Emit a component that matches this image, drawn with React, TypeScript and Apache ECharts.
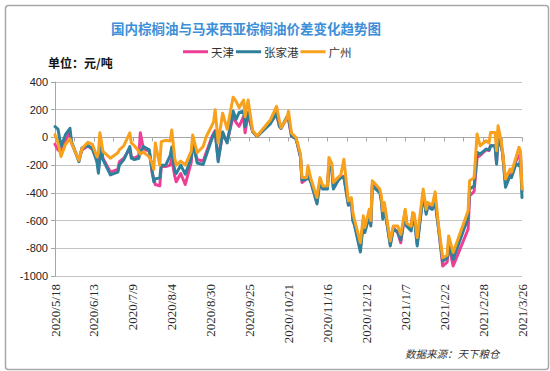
import React, { useEffect, useRef } from "react";
import * as echarts from "echarts";

const titleText = "国内棕榈油与马来西亚棕榈油价差变化趋势图";
const unitText = "单位：元/吨";
const sourceText = "数据来源：天下粮仓";
const seriesNames = ["天津", "张家港", "广州"];
const seriesColors = ["#ec3f95", "#2f819b", "#f8a11c"];

const dates = [
  "2020/5/18", "2020/5/20", "2020/5/22", "2020/5/25", "2020/5/28", "2020/5/29", "2020/6/3", "2020/6/5",
  "2020/6/9", "2020/6/12", "2020/6/15", "2020/6/16", "2020/6/17", "2020/6/18", "2020/6/19", "2020/6/24",
  "2020/6/29", "2020/6/30", "2020/7/3", "2020/7/7", "2020/7/8", "2020/7/10", "2020/7/13", "2020/7/14",
  "2020/7/16", "2020/7/20", "2020/7/22", "2020/7/23", "2020/7/24", "2020/7/27", "2020/7/28", "2020/7/31",
  "2020/8/3", "2020/8/4", "2020/8/6", "2020/8/7", "2020/8/10", "2020/8/13", "2020/8/17", "2020/8/18",
  "2020/8/21", "2020/8/25", "2020/8/27", "2020/8/31", "2020/9/1", "2020/9/2", "2020/9/4", "2020/9/7",
  "2020/9/10", "2020/9/14", "2020/9/16", "2020/9/18", "2020/9/21", "2020/9/22", "2020/9/24", "2020/9/27",
  "2020/9/30", "2020/10/9", "2020/10/13", "2020/10/15", "2020/10/16", "2020/10/20", "2020/10/21", "2020/10/23",
  "2020/10/26", "2020/10/27", "2020/10/29", "2020/10/30", "2020/11/2", "2020/11/3", "2020/11/5", "2020/11/9",
  "2020/11/11", "2020/11/13", "2020/11/16", "2020/11/17", "2020/11/19", "2020/11/20", "2020/11/23", "2020/11/25",
  "2020/11/27", "2020/11/30", "2020/12/2", "2020/12/3", "2020/12/4", "2020/12/8", "2020/12/10", "2020/12/11",
  "2020/12/14", "2020/12/15", "2020/12/16", "2020/12/21", "2020/12/22", "2020/12/23", "2020/12/24", "2020/12/26",
  "2020/12/28", "2020/12/30", "2021/1/2", "2021/1/4", "2021/1/7", "2021/1/8", "2021/1/11", "2021/1/12",
  "2021/1/13", "2021/1/15", "2021/1/19", "2021/1/21", "2021/1/22", "2021/1/25", "2021/1/27", "2021/1/29",
  "2021/2/1", "2021/2/4", "2021/2/5", "2021/2/8", "2021/2/18", "2021/2/19", "2021/2/22", "2021/2/24",
  "2021/2/26", "2021/3/2", "2021/3/4", "2021/3/5", "2021/3/8", "2021/3/9", "2021/3/10", "2021/3/12",
  "2021/3/13", "2021/3/15", "2021/3/18", "2021/3/19", "2021/3/22", "2021/3/24", "2021/3/25", "2021/3/26",
];

const tianjin = [
  -50, -90, -100, -20, 40, -40, -165, -90,
  -60, -85, -165, -230, -140, -80, -150, -250,
  -230, -175, -150, -80, -140, -150, -130, 33,
  -80, -100, -260, -300, -340, -350, -210, -210,
  -200, -150, -280, -320, -260, -340, -180, -40,
  -160, -170, -110, 10, 30, 50, -160, 20,
  -30, 150, 108, 80, 150, 33, 170, 43,
  7, 110, 165, 80, 66, 140, 130, 10,
  -10, -50, -140, -325, -300, -280, -320, -470,
  -320, -370, -360, -200, -235, -365, -310, -285,
  -280, -480, -460, -590, -620, -800, -600, -670,
  -550, -620, -340, -390, -440, -560, -490, -630,
  -770, -650, -690, -760, -530, -640, -660, -550,
  -570, -770, -400, -540, -490, -510, -460, -630,
  -928, -900, -770, -928, -663, -422, -390, -145,
  -130, -90, -95, -60, -60, -180, -20, -60,
  -110, -340, -250, -260, -170, -133, -120, -390,
];

const zhangjiagang = [
  78, 60, -66, 20, 66, -30, -175, -75,
  -60, -80, -175, -258, -150, -66, -160, -270,
  -250, -200, -160, -66, -150, -160, -150, -110,
  -66, -90, -250, -320, -300, -290, -200, -200,
  -130, -70, -245, -260, -200, -265, -150, -30,
  -185, -195, -130, -5, 20, 40, -175, 40,
  -40, 190, 130, 180, 190, 78, 180, 43,
  7, 100, 175, 78, 66, 150, 140, 10,
  -10, -50, -140, -310, -300, -277, -325, -480,
  -325, -373, -373, -205, -240, -373, -313, -290,
  -290, -490, -470, -602, -630, -827, -614, -687,
  -566, -639, -350, -400, -460, -590, -500, -640,
  -783, -663, -680, -740, -540, -640, -675, -560,
  -580, -783, -410, -554, -500, -520, -470, -640,
  -892, -870, -760, -880, -578, -373, -350, -108,
  -120, -84, -90, -60, -60, -193, -12, -60,
  -108, -360, -277, -290, -190, -205, -160, -434,
];

const guangzhou = [
  20, -40, -138, -50, -10, -40, -165, -80,
  -35, -50, -140, -110, 33, -30, -100, -150,
  -110, -90, -60, 33, -40, -60, -100, -120,
  -105, -140, -190, -230, -40, -200, -30, -20,
  -25, 54, -150, -200, -170, -200, -100, 18,
  -110, -65, 5, 90, 115, 200, -40, 175,
  60, 290, 260, 215, 270, 150, 270, 50,
  10, 128, 225, 115, 70, 140, 190, 30,
  0, -40, -120, -290, -290, -205, -300, -434,
  -290, -350, -350, -145, -190, -325, -290, -270,
  -157, -458, -434, -542, -590, -760, -566, -650,
  -518, -600, -313, -373, -422, -530, -470, -610,
  -747, -640, -640, -700, -518, -620, -640, -542,
  -550, -723, -373, -518, -470, -490, -393, -614,
  -868, -850, -711, -830, -530, -313, -290, 24,
  -60, -24, -40, 36, 36, -96, 84, -20,
  -100, -300, -229, -250, -145, -72, -100, -373,
];

const START = Date.UTC(2020, 4, 18);
const DAY = 86400000;
const TOTAL_DAYS = 312;

function dayOffset(s: string): number {
  const [y, m, d] = s.split("/").map(Number);
  return Math.round((Date.UTC(y, m - 1, d) - START) / DAY);
}

function dayLabel(v: number): string {
  const dt = new Date(START + Math.round(v) * DAY);
  return `${dt.getUTCFullYear()}/${dt.getUTCMonth() + 1}/${dt.getUTCDate()}`;
}

const GRID_LEFT = 55;
const GRID_TOP = 82;
const GRID_W = 467;
const GRID_H = 194;
const Y_MIN = -1000;
const Y_MAX = 400;

export default function App() {
  const ref = useRef<HTMLDivElement>(null);

  useEffect(() => {
    if (!ref.current) return;
    const chart = echarts.init(ref.current, null, { renderer: "svg" });
    const allValues = [tianjin, zhangjiagang, guangzhou];
    const zeroOffset = -(GRID_H * (0 - Y_MIN)) / (Y_MAX - Y_MIN);

    chart.setOption({
      animation: false,
      backgroundColor: "#ffffff",
      title: {
        text: titleText,
        left: 241,
        top: 16,
        textAlign: "center",
        textStyle: {
          color: "#3d8fd8",
          fontSize: 13.5,
          fontWeight: "bold",
          fontFamily: "Noto Sans CJK SC",
        },
      },
      legend: {
        left: 178,
        top: 41,
        itemGap: 2,
        itemWidth: 25,
        itemHeight: 3,
        icon: "rect",
        data: seriesNames,
        textStyle: {
          fontSize: 11.5,
          color: "#333",
          fontFamily: "Noto Sans CJK SC",
          padding: [0, 0, 0, -2],
        },
      },
      grid: {
        left: GRID_LEFT,
        top: GRID_TOP,
        width: GRID_W,
        height: GRID_H,
        containLabel: false,
      },
      xAxis: [
        {
          type: "value",
          min: 0,
          max: TOTAL_DAYS,
          interval: 26,
          position: "bottom",
          axisLine: { show: false, onZero: false },
          axisTick: { show: false },
          splitLine: { show: false },
          axisLabel: {
            rotate: 90,
            margin: 8,
            fontSize: 13,
            color: "#2a2a2a",
            fontFamily: "Liberation Serif",
            formatter: (v: number) => dayLabel(v),
          },
        },
        {
          type: "value",
          min: 0,
          max: TOTAL_DAYS,
          interval: 13,
          position: "bottom",
          offset: zeroOffset,
          axisLine: { show: true, onZero: false, lineStyle: { color: "#a6a6a6", width: 1 } },
          axisTick: { show: true, length: 4, lineStyle: { color: "#a6a6a6" } },
          splitLine: { show: false },
          axisLabel: { show: false },
        },
      ],
      yAxis: {
        type: "value",
        min: Y_MIN,
        max: Y_MAX,
        interval: 200,
        axisLine: { show: true, lineStyle: { color: "#a6a6a6" } },
        axisTick: { show: true, length: 4, lineStyle: { color: "#a6a6a6" } },
        splitLine: { show: true, lineStyle: { color: "#c4c4c4", width: 1 } },
        axisLabel: {
          fontSize: 11,
          color: "#222",
          margin: 7,
          fontFamily: "Liberation Sans",
          formatter: (v: number) => String(v),
        },
      },
      series: seriesNames.map((name, si) => ({
        name,
        type: "line",
        xAxisIndex: 0,
        symbol: "none",
        showSymbol: false,
        color: seriesColors[si],
        z: 2 + si,
        lineStyle: { width: 3, color: seriesColors[si], cap: "round", join: "round" },
        data: dates.map((d, i) => [dayOffset(d), allValues[si][i]]),
      })),
      graphic: [
        {
          type: "rect",
          left: 3,
          top: 3,
          shape: { width: 543, height: 364, r: 3 },
          style: { fill: "none", stroke: "#a8a8a8", lineWidth: 1.5 },
          silent: true,
          z: -1,
        },
        {
          type: "text",
          left: 48,
          top: 56,
          style: {
            text: unitText,
            fill: "#111",
            font: "bold 12px 'Noto Sans CJK SC'",
          },
        },
        {
          type: "text",
          left: 405,
          top: 348,
          style: {
            text: sourceText,
            fill: "#333",
            font: "italic 10.5px 'Noto Sans CJK SC'",
          },
        },
      ],
    });

    return () => chart.dispose();
  }, []);

  return (
    <div
      ref={ref}
      style={{ position: "fixed", left: 0, top: 0, width: 550, height: 371, background: "#fff" }}
    />
  );
}
